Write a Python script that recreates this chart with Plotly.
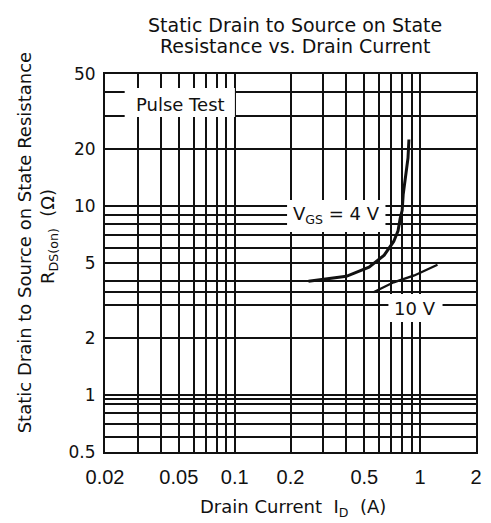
import plotly.graph_objects as go

# ---- data ----
vgs4_id = [0.25, 0.40, 0.53, 0.64, 0.72, 0.76, 0.78, 0.80, 0.81, 0.83, 0.86, 0.87]
vgs4_r = [4.0, 4.25, 4.75, 5.5, 6.5, 7.4, 8.6, 9.5, 11.5, 14.0, 18.0, 22.5]
vgs10_id = [0.56, 0.72, 0.93, 1.24]
vgs10_r = [3.5, 3.95, 4.3, 4.9]

x_tick_vals = [0.02, 0.05, 0.1, 0.2, 0.5, 1, 2]
x_tick_text = ["0.02", "0.05", "0.1", "0.2", "0.5", "1", "2"]
x_grid_minor = [0.03, 0.04, 0.06, 0.07, 0.08, 0.09, 0.3, 0.4, 0.6, 0.7, 0.8, 0.9]
y_tick_vals = [0.5, 1, 2, 5, 10, 20, 50]
y_tick_text = ["0.5", "1", "2", "5", "10", "20", "50"]
y_grid_minor = [0.6, 0.7, 0.8, 0.9, 0.95, 3, 3.5, 4, 6, 7, 8, 9, 30, 40]

FONT = "DejaVu Sans"
BLACK = "#111111"

fig = go.Figure()
fig.add_trace(go.Scatter(x=vgs4_id, y=vgs4_r, mode="lines",
                         line=dict(color=BLACK, width=3), showlegend=False))
fig.add_trace(go.Scatter(x=vgs10_id, y=vgs10_r, mode="lines",
                         line=dict(color=BLACK, width=2.2), showlegend=False))

W, H = 491, 523
L, R, T, B = 105, 9, 74, 71
PW, PH = W - L - R, H - T - B


def px(xp):
    return (xp - L) / PW


def py(yp):
    return (H - B - yp) / PH


# white label boxes interrupting the grid
for (x0, x1, y0, y1) in [(125, 237, 88, 117), (290, 390, 200, 232), (393, 448, 294, 322)]:
    fig.add_shape(type="rect", xref="paper", yref="paper",
                  x0=px(x0), x1=px(x1), y0=py(y1), y1=py(y0),
                  fillcolor="white", line=dict(width=0), layer="above")

ann = []
ann.append(dict(text="Static Drain to Source on State", x=px(298), y=py(25), size=19))
ann.append(dict(text="Resistance vs. Drain Current", x=px(298), y=py(46), size=19))
ann.append(dict(text="Drain Current  I<sub>D</sub>  (A)", x=px(296), y=py(508), size=18))
ann.append(dict(text="Static Drain to Source on State Resistance", x=px(23), y=py(243), textangle=-90, size=18))
ann.append(dict(text="R<sub>DS(on)</sub>  (Ω)", x=px(48), y=py(236), textangle=-90, size=18))
ann.append(dict(text="Pulse Test", x=px(182), y=py(104), size=18))
ann.append(dict(text="V<sub>GS</sub> = 4 V", x=px(340), y=py(215), size=18))
ann.append(dict(text="10 V", x=px(420), y=py(308), size=18))
for a in ann:
    s = a.pop("size")
    a.update(xref="paper", yref="paper", showarrow=False, xanchor="center", yanchor="middle",
             font=dict(family=FONT, size=s, color=BLACK))
fig.update_layout(annotations=ann)

fig.update_xaxes(type="log", range=[-1.69897, 0.30103],
                 tickvals=x_tick_vals, ticktext=x_tick_text,
                 tickfont=dict(family="Liberation Sans", size=20, color=BLACK),
                 ticks="", ticklabelstandoff=6,
                 showgrid=True, gridcolor=BLACK, gridwidth=1.5,
                 minor=dict(tickvals=x_grid_minor, showgrid=True, gridcolor=BLACK, gridwidth=1.5, ticks=""),
                 showline=True, linecolor=BLACK, linewidth=2, mirror=True, zeroline=False)
fig.update_yaxes(type="log", range=[-0.30103, 1.69897],
                 tickvals=y_tick_vals, ticktext=y_tick_text,
                 tickfont=dict(family=FONT, size=17, color=BLACK),
                 ticks="", ticklabelstandoff=4,
                 showgrid=True, gridcolor=BLACK, gridwidth=1.5,
                 minor=dict(tickvals=y_grid_minor, showgrid=True, gridcolor=BLACK, gridwidth=1.5, ticks=""),
                 showline=True, linecolor=BLACK, linewidth=2, mirror=True, zeroline=False)

fig.update_layout(width=W, height=H, margin=dict(l=L, r=R, t=T, b=B),
                  paper_bgcolor="white", plot_bgcolor="white",
                  font=dict(family=FONT, color=BLACK))

fig.write_html("out.html", config={"displayModeBar": False},
               post_script="document.body.style.margin='0px';")
